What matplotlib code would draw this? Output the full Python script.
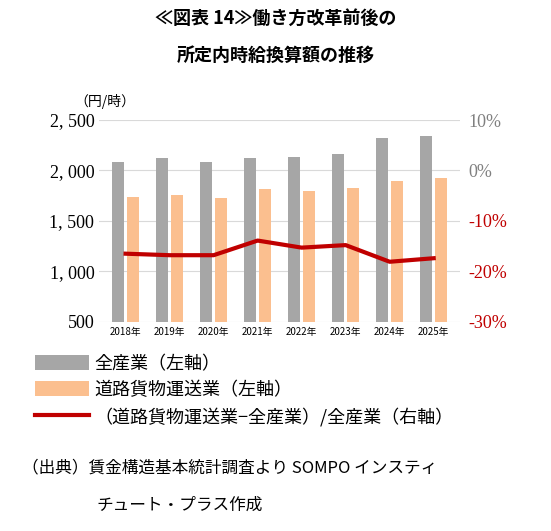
import matplotlib.pyplot as plt
import numpy as np

plt.rcParams['font.family'] = ['Noto Sans CJK JP', 'DejaVu Sans']

years = ["2018年", "2019年", "2020年", "2021年", "2022年", "2023年", "2024年", "2025年"]
all_industry = [2080, 2120, 2080, 2120, 2130, 2160, 2320, 2340]
road_freight = [1740, 1760, 1730, 1820, 1800, 1830, 1900, 1930]
gap_ratio = [-16.5, -16.8, -16.8, -13.9, -15.3, -14.8, -18.1, -17.4]

fig = plt.figure(figsize=(5.51, 5.31), dpi=100)
fig.text(0.5, 0.966, "≪図表 14≫働き方改革前後の", ha="center", va="center", fontsize=13, fontweight="bold")
fig.text(0.5, 0.896, "所定内時給換算額の推移", ha="center", va="center", fontsize=13, fontweight="bold")

ax = fig.add_axes([0.18, 0.394, 0.655, 0.38])
x = np.arange(len(years))
w = 0.28
ax.bar(x - 0.17, all_industry, w, color="#a6a6a6", label="全産業（左軸）", zorder=2)
ax.bar(x + 0.17, road_freight, w, color="#fbbf8f", label="道路貨物運送業（左軸）", zorder=2)
ax.set_ylim(500, 2500)
ax.set_yticks([500, 1000, 1500, 2000, 2500])
ax.set_yticklabels(["500", "1, 000", "1, 500", "2, 000", "2, 500"], family="Liberation Serif", fontsize=13)
ax.set_xlim(-0.6, len(years) - 0.4)
ax.set_xticks(x)
ax.set_xticklabels(years, fontsize=7)
ax.grid(axis="y", color="#d9d9d9", zorder=0)
for s in ax.spines.values():
    s.set_visible(False)
ax.tick_params(length=0)
ax.text(-0.07, 1.09, "（円/時）", transform=ax.transAxes, fontsize=10, ha="left", va="center")

ax2 = ax.twinx()
line, = ax2.plot(x, gap_ratio, color="#c00000", lw=3, label="（道路貨物運送業−全産業）/全産業（右軸）")
ax2.set_ylim(-30, 10)
ax2.set_yticks([-30, -20, -10, 0, 10])
ax2.set_yticklabels(["-30%", "-20%", "-10%", "0%", "10%"], family="Liberation Serif", fontsize=13)
for lab in ax2.get_yticklabels()[:3]:
    lab.set_color("#c00000")
for lab in ax2.get_yticklabels()[3:]:
    lab.set_color("#808080")
for s in ax2.spines.values():
    s.set_visible(False)
ax2.tick_params(length=0, pad=6)

h1, l1 = ax.get_legend_handles_labels()
fig.legend(h1 + [line], l1 + [line.get_label()], loc="upper left", bbox_to_anchor=(0.05, 0.345),
           frameon=False, fontsize=13, handlelength=3, handleheight=0.9, labelspacing=0.45,
           borderaxespad=0, handletextpad=0.3)

fig.text(0.04, 0.119, "（出典）賃金構造基本統計調査より SOMPO インスティ", fontsize=12, va="center")
fig.text(0.175, 0.049, "チュート・プラス作成", fontsize=12, va="center")

fig.savefig("out.png", dpi=100)
